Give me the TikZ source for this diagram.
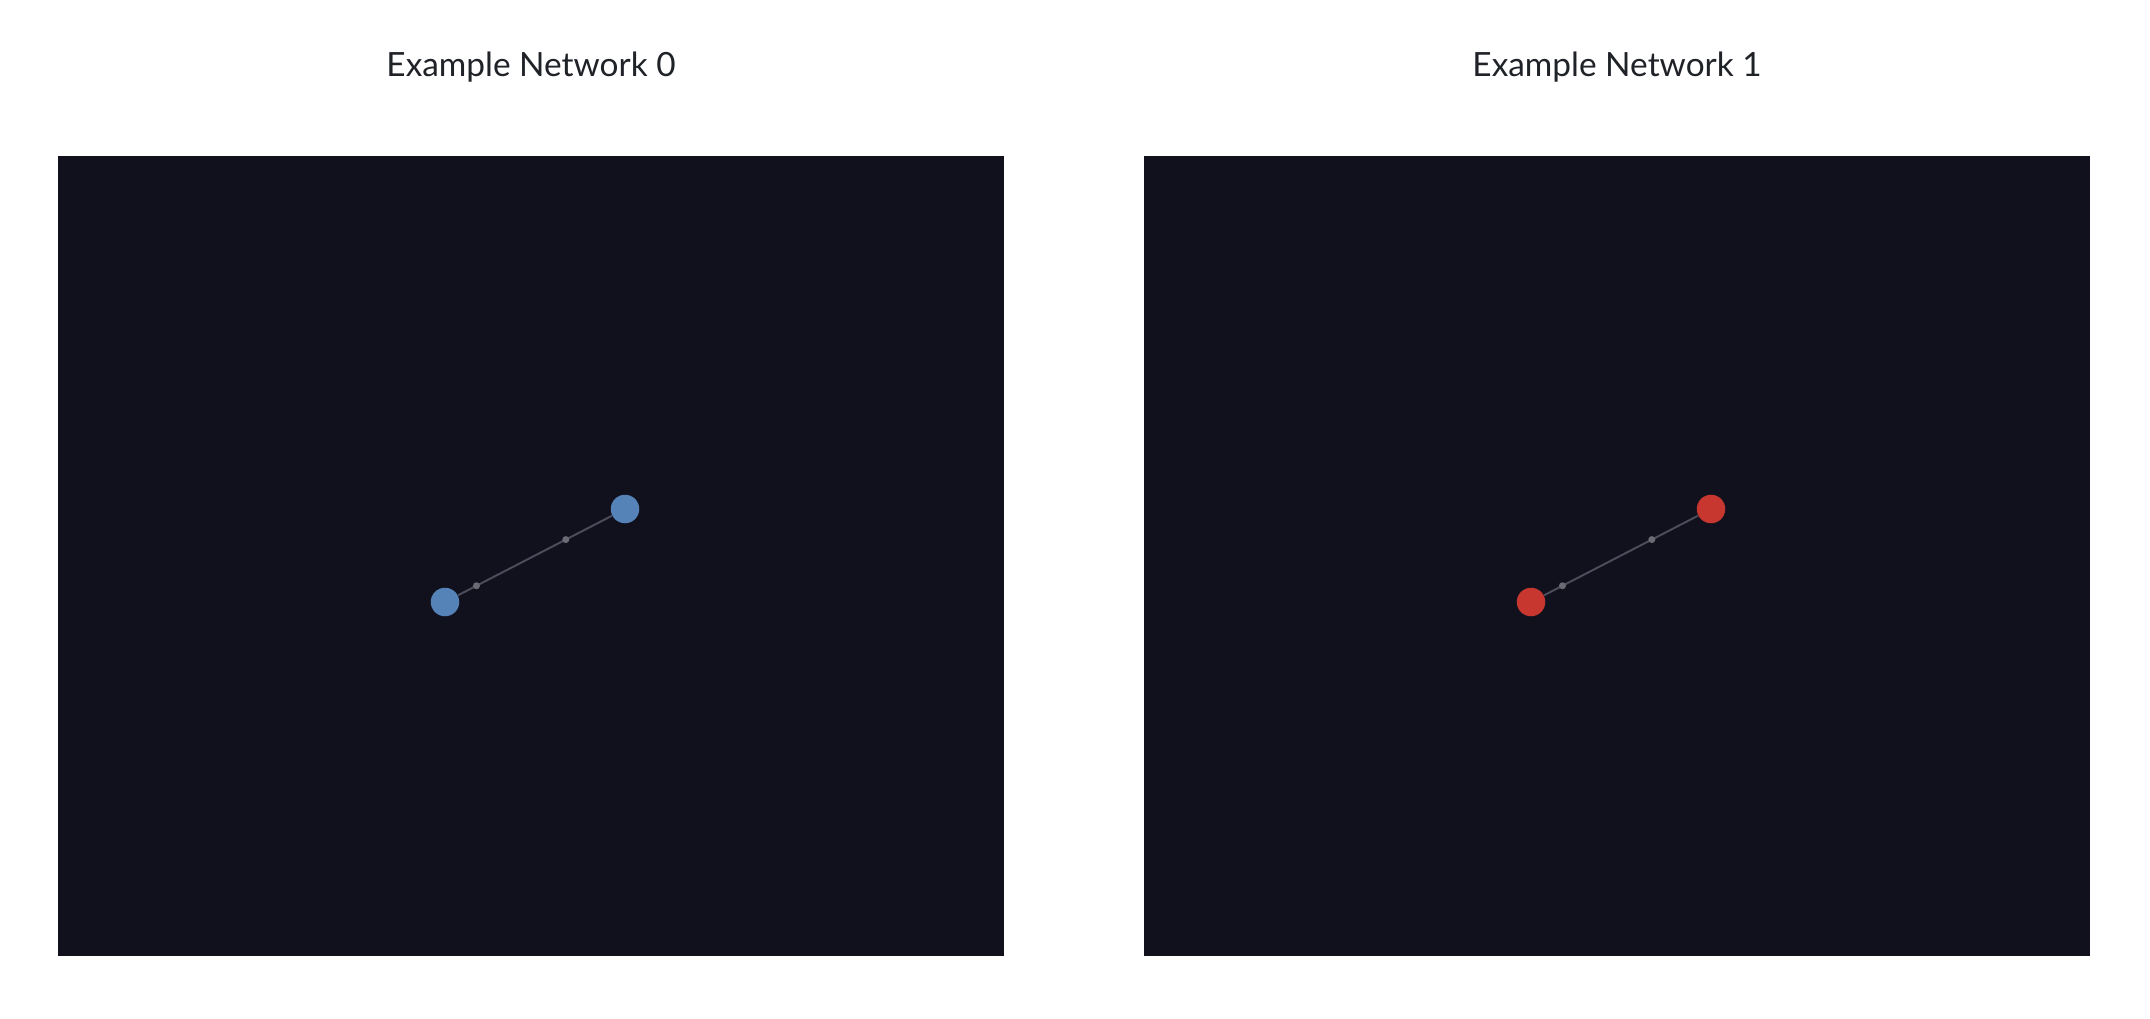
\documentclass[tikz,border=0pt]{standalone}
\usepackage{fontspec}
\setmainfont{Lato}
\usepackage{tikz}
\definecolor{panelbg}{HTML}{11111E}
\definecolor{nodeblue}{HTML}{5583B7}
\definecolor{nodered}{HTML}{C7372F}
\definecolor{edgegray}{HTML}{4C4C5C}
\definecolor{dotgray}{HTML}{6A6A74}
\definecolor{titlegray}{HTML}{1F2227}
\tikzset{
    netnode/.style={circle,inner sep=0pt,minimum size=0.57cm},
    netedge/.style={draw=edgegray,line width=1.1pt},
    edgedot/.style={circle,fill=dotgray,inner sep=0pt,minimum size=0.14cm},
    paneltitle/.style={font=\fontsize{19}{23}\selectfont,text=titlegray}
}

\begin{document}
\begin{tikzpicture}[x=0.02cm,y=-0.02cm]
    \useasboundingbox[fill=white] (0,0) rectangle (2150,1018);

    \begin{scope}
        \node[paneltitle] (title0) at (531,67) {Example Network 0};
        \fill[panelbg] (58,156) rectangle (1004,956);
        \node[netnode,fill=nodeblue] (a0) at (445,602) {};
        \node[netnode,fill=nodeblue] (b0) at (625,509) {};
        \draw[netedge] (a0) -- (b0)
            node[edgedot,pos=0.12] (m0) {}
            node[edgedot,pos=0.70] (n0) {};
    \end{scope}

    \begin{scope}[xshift=1086*0.02cm]
        \node[paneltitle] (title1) at (531,67) {Example Network 1};
        \fill[panelbg] (58,156) rectangle (1004,956);
        \node[netnode,fill=nodered] (a1) at (445,602) {};
        \node[netnode,fill=nodered] (b1) at (625,509) {};
        \draw[netedge] (a1) -- (b1)
            node[edgedot,pos=0.12] (m1) {}
            node[edgedot,pos=0.70] (n1) {};
    \end{scope}
\end{tikzpicture}
\end{document}
